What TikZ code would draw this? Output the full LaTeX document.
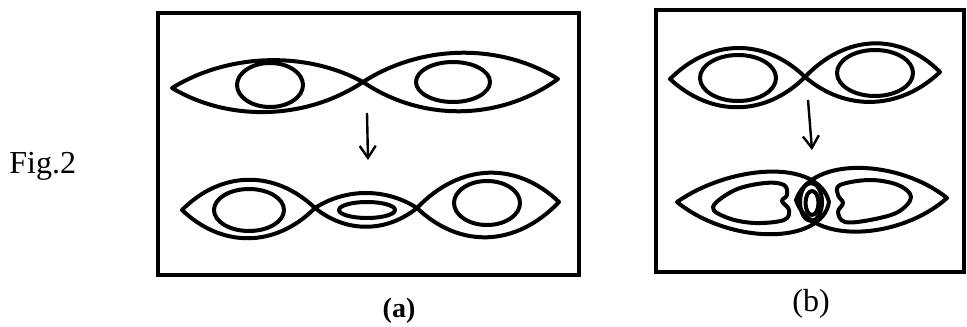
\documentclass[tikz,border=0pt]{standalone}
\usepackage{fontspec}
\setmainfont{Liberation Serif}
\usepackage{tikz}
\usetikzlibrary{arrows.meta, positioning}

\begin{document}
\begin{tikzpicture}[
    x=0.5pt, y=-0.5pt,
    panel/.style={draw, line width=1.7pt},
    curve/.style={draw, line width=2pt, line join=round},
    arrow/.style={-{Straight Barb[length=6pt,width=8pt]}, line width=1.2pt},
    caption/.style={inner sep=0pt, anchor=base}
]
\useasboundingbox (0,0) rectangle (967,326);

% Frames
\draw[panel] (158,13) rectangle (579,275);
\draw[panel] (656,10) rectangle (964,272);

% Labels
\node (figlabel) [caption, anchor=base west, font=\fontsize{16}{18}\selectfont] at (9,173) {Fig.2};
\node (labela) [caption, font=\fontsize{14}{16}\selectfont\bfseries] at (399,317) {(a)};
\node (labelb) [caption, font=\fontsize{16}{18}\selectfont] at (811,311) {(b)};

% (a) upper row
\draw[curve] (172,88) .. controls (229,53) and (306,51) .. (363,82)
                      .. controls (306,120) and (229,122) .. cycle;
\draw[curve] (363,82) .. controls (422,44) and (500,43) .. (558,79)
                      .. controls (500,121) and (422,122) .. cycle;
\draw[curve] (270,85) ellipse [x radius=33, y radius=22];
\draw[curve] (453,82) ellipse [x radius=37, y radius=20];

% (a) arrow
\coordinate (a-top) at (367,113);
\coordinate (a-bot) at (368,160);
\draw[arrow] (a-top) -- (a-bot);

% (a) lower row
\draw[curve] (182,210) .. controls (222,170) and (275,170) .. (315,208)
                       .. controls (275,248) and (222,248) .. cycle;
\draw[curve] (315,208) .. controls (346,188) and (386,188) .. (417,208)
                       .. controls (386,233) and (346,233) .. cycle;
\draw[curve] (417,208) .. controls (460,163) and (516,161) .. (559,202)
                       .. controls (516,247) and (460,249) .. cycle;
\draw[curve] (249,210) ellipse [x radius=35, y radius=21];
\draw[curve] (367,210) ellipse [x radius=28, y radius=8];
\draw[curve] (487,203) ellipse [x radius=33, y radius=22];

% (b) upper row
\draw[curve] (670,79) .. controls (711,38) and (765,38) .. (805,77)
                      .. controls (765,117) and (711,117) .. cycle;
\draw[curve] (805,77) .. controls (846,34) and (900,32) .. (940,72)
                      .. controls (900,110) and (846,112) .. cycle;
\draw[curve] (738,78) ellipse [x radius=38, y radius=23];
\draw[curve] (875,73) ellipse [x radius=38, y radius=23];

% (b) arrow
\coordinate (b-top) at (808,100);
\coordinate (b-bot) at (812,150);
\draw[arrow] (b-top) -- (b-bot);

% (b) lower row
\draw[curve] (677,202) .. controls (730,165) and (818,158) .. (829,202)
                       .. controls (822,245) and (730,245) .. cycle;
\draw[curve] (947,198) .. controls (900,160) and (812,155) .. (796,200)
                       .. controls (810,245) and (900,240) .. cycle;
\draw[curve] (811,202) ellipse [x radius=11, y radius=19];
\draw[curve] (812,203) ellipse [x radius=6.5, y radius=12];
\draw[curve] plot[smooth cycle, tension=0.6] coordinates
    {(713,207) (735,190) (765,183) (784,185) (787,195) (782,201) (789,210) (784,220) (755,223) (728,218)};
\draw[curve] plot[smooth cycle, tension=0.6] coordinates
    {(840,185) (870,180) (898,185) (911,197) (898,212) (870,220) (845,222) (838,212) (843,203) (838,195)};
\end{tikzpicture}
\end{document}
